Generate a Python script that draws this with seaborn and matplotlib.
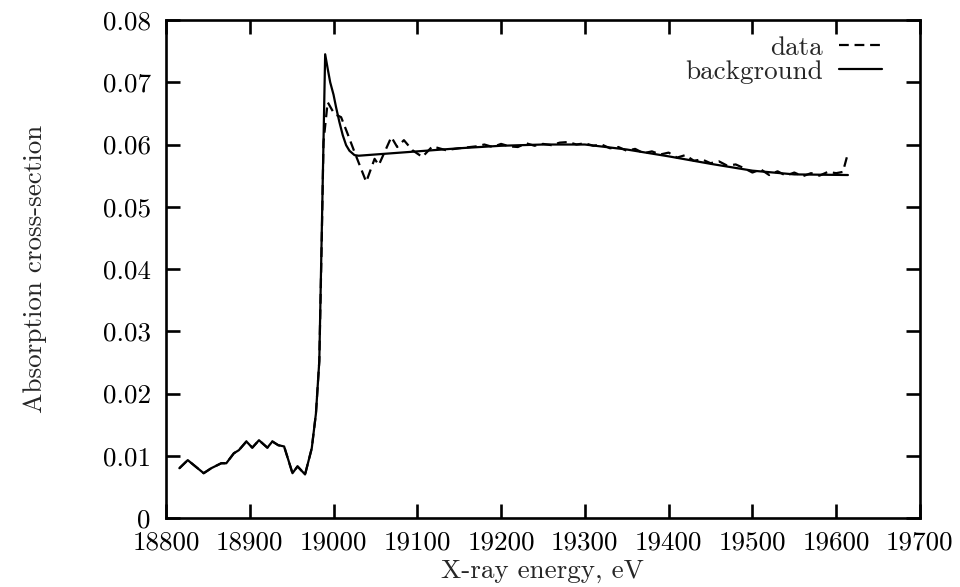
import matplotlib
matplotlib.use("Agg")
import matplotlib.pyplot as plt
import seaborn as sns
import pandas as pd
from matplotlib.ticker import FuncFormatter

# ---------------- data ----------------
pre_energy = [18816, 18826, 18845, 18854, 18866, 18872, 18881, 18887, 18896, 18903,
              18911, 18921, 18927, 18934, 18941, 18951, 18957, 18966, 18974, 18979, 18983]
pre_values = [0.0080, 0.0093, 0.0072, 0.0080, 0.0088, 0.0088, 0.0104, 0.0109, 0.0123, 0.0113,
              0.0125, 0.0113, 0.0123, 0.0117, 0.0115, 0.0072, 0.0083, 0.0070, 0.0112, 0.0168, 0.0252]

data_energy = [18986, 18988, 18993, 19001, 19009, 19016, 19025, 19039, 19049, 19054,
               19069, 19076, 19084, 19094, 19106, 19118, 19134, 19150, 19170,
               19180, 19190, 19200, 19210, 19220, 19230, 19240, 19250, 19260, 19270,
               19280, 19290, 19300, 19310, 19320, 19330, 19340, 19350, 19360, 19370,
               19380, 19390, 19400, 19410, 19420, 19430, 19440, 19450, 19460, 19470,
               19480, 19490, 19500, 19510, 19520, 19530, 19540, 19550, 19560, 19570,
               19580, 19590, 19600, 19608, 19614]
data_values = [0.0450, 0.0604, 0.0668, 0.0649, 0.0644, 0.0620, 0.0588, 0.0540, 0.0577, 0.0567,
               0.0612, 0.0596, 0.0607, 0.0591, 0.0580, 0.0597, 0.0591, 0.0594, 0.0597,
               0.0600, 0.0596, 0.0601, 0.0597, 0.0596, 0.0602, 0.0598, 0.0601, 0.0599, 0.0603,
               0.0604, 0.0600, 0.0602, 0.0598, 0.0600, 0.0594, 0.0596, 0.0590, 0.0593, 0.0586,
               0.0589, 0.0584, 0.0587, 0.0579, 0.0583, 0.0574, 0.0576, 0.0570, 0.0573, 0.0566,
               0.0568, 0.0562, 0.0555, 0.0560, 0.0551, 0.0557, 0.0550, 0.0555, 0.0549, 0.0554,
               0.0550, 0.0556, 0.0554, 0.0556, 0.0586]

bkg_energy = [18990, 18993, 18996, 19000, 19003, 19007, 19011, 19015, 19019, 19025, 19030,
              19050, 19100, 19150, 19200, 19250, 19300, 19350, 19400, 19450, 19500, 19550, 19614]
bkg_values = [0.0745, 0.0722, 0.0700, 0.0680, 0.0660, 0.0636, 0.0615, 0.0599, 0.0590, 0.0583, 0.0582,
              0.0584, 0.0589, 0.0594, 0.0598, 0.0600, 0.0600, 0.0592, 0.0581, 0.0569, 0.0558, 0.0552, 0.0551]

x_ticks = [18800, 18900, 19000, 19100, 19200, 19300, 19400, 19500, 19600, 19700]
y_ticks = [0, 0.01, 0.02, 0.03, 0.04, 0.05, 0.06, 0.07, 0.08]

data_df = pd.DataFrame({"energy": pre_energy + data_energy,
                        "value": pre_values + data_values})
bkg_df = pd.DataFrame({"energy": pre_energy + bkg_energy,
                       "value": pre_values + bkg_values})

# ---------------- style ----------------
sns.set_style("ticks")
plt.rcParams["font.family"] = ["cmr10", "DejaVu Serif"]
plt.rcParams["axes.formatter.use_mathtext"] = True
plt.rcParams["mathtext.fontset"] = "cm"

FS = 19.5
fig = plt.figure(figsize=(9.6, 5.87), dpi=100)
ax = fig.add_axes([0.1729, 0.1175, 0.7854, 0.8484])

sns.lineplot(data=data_df, x="energy", y="value", ax=ax, color="black",
             linewidth=1.6, linestyle=(0, (4.4, 2.6)), label="data", sort=False)
sns.lineplot(data=bkg_df, x="energy", y="value", ax=ax, color="black",
             linewidth=1.6, label="background", sort=False)

ax.set_xlim(18800, 19700)
ax.set_ylim(0, 0.08)
ax.set_xticks(x_ticks)
ax.set_yticks(y_ticks)
ax.xaxis.set_major_formatter(FuncFormatter(lambda v, p: f"{int(round(v))}"))
ax.yaxis.set_major_formatter(FuncFormatter(lambda v, p: "0" if abs(v) < 1e-9 else f"{v:.2f}"))

ax.tick_params(axis="both", which="major", direction="in", length=10, width=1.9,
               top=True, right=True, labelsize=FS, colors="black")
ax.tick_params(axis="x", pad=9)
ax.tick_params(axis="y", pad=11)
for s in ax.spines.values():
    s.set_linewidth(1.9)
    s.set_color("black")
    s.set_visible(True)

ax.set_xlabel("X-ray energy, eV", fontsize=FS)
ax.set_ylabel("Absorption cross-section", fontsize=FS)
ax.xaxis.set_label_coords(0.5, -0.083)
ax.yaxis.set_label_coords(-0.158, 0.5)

leg = ax.legend(loc="upper right", frameon=False, markerfirst=False, fontsize=FS,
                handlelength=1.6, handletextpad=0.6, borderaxespad=0.0, borderpad=0.0,
                labelspacing=0.0, bbox_to_anchor=(0.950, 0.968))

fig.savefig("out.png", dpi=100)
